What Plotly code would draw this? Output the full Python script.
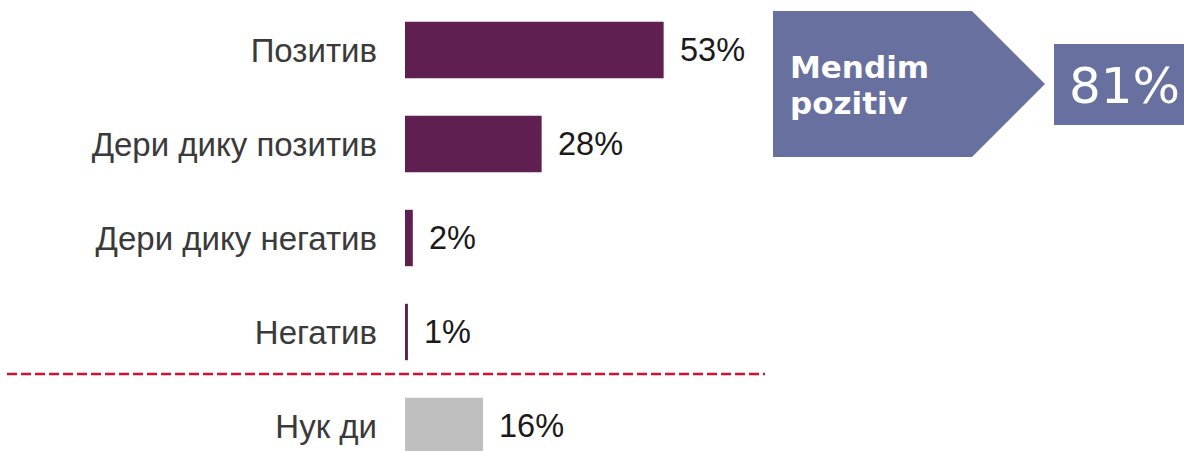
import plotly.graph_objects as go

categories = ["Позитив", "Дери дику позитив", "Дери дику негатив", "Негатив", "Нук ди"]
values = [53, 28, 1.6, 0.6, 16]
bar_colors = ["#5f1f51", "#5f1f51", "#5f1f51", "#5f1f51", "#bfbfbf"]
summary_label = ["Mendim", "pozitiv"]
summary_value = "81%"

W, H = 1184, 451
def px(x): return x / W
def py(y): return 1 - y / H

fig = go.Figure()
fig.add_trace(go.Bar(
    y=categories, x=values, orientation="h",
    marker=dict(color=bar_colors, line=dict(width=0)),
    width=0.6, hoverinfo="skip",
))

for c, v in zip(categories, values):
    fig.add_annotation(x=v, y=c, xref="x", yref="y", text=f"{round(v)}%",
                       showarrow=False, xanchor="left", xshift=14,
                       font=dict(family="Liberation Sans, Arial", size=32.5, color="#1a1a1a"))

# dashed separator
fig.add_shape(type="line", xref="paper", yref="paper", x0=px(7), x1=px(765),
              y0=py(374), y1=py(374), line=dict(color="#d6112e", width=2.5, dash="10px,4px"))

# arrow pentagon
pts = [(773, 11), (972, 11), (1045, 84), (972, 157), (773, 157)]
path = "M " + " L ".join(f"{px(a):.5f},{py(b):.5f}" for a, b in pts) + " Z"
fig.add_shape(type="path", xref="paper", yref="paper", path=path,
              fillcolor="#67709e", line=dict(width=0))
fig.add_shape(type="rect", xref="paper", yref="paper", x0=px(1054), x1=px(1185),
              y0=py(125), y1=py(44), fillcolor="#67709e", line=dict(width=0))
for i, t in enumerate(summary_label):
    fig.add_annotation(xref="paper", yref="paper", x=px(788), y=py(67 + 36 * i), text=f"<b>{t}</b>",
                       showarrow=False, xanchor="left", yanchor="middle",
                       font=dict(family="DejaVu Sans", size=31, color="white"))
fig.add_annotation(xref="paper", yref="paper", x=px(1124), y=py(86), text=summary_value,
                   showarrow=False, xanchor="center", yanchor="middle",
                   font=dict(family="DejaVu Sans", size=50, color="white"))

fig.update_layout(
    width=W, height=H, margin=dict(l=0, r=0, t=0, b=0),
    plot_bgcolor="white", paper_bgcolor="white", showlegend=False,
    xaxis=dict(domain=[px(405), 1], range=[0, (W - 405) / 4.88], visible=False, fixedrange=True),
    yaxis=dict(range=[(H - 50) / 94, -50 / 94], showgrid=False, zeroline=False, showline=False,
               ticks="", ticklabelstandoff=27, fixedrange=True,
               tickfont=dict(family="Liberation Sans, Arial", size=33, color="#3a3a3a")),
)

fig.write_html("out.html", config={"displayModeBar": False, "staticPlot": True},
               post_script="document.body.style.margin='0';document.body.style.padding='0';")
